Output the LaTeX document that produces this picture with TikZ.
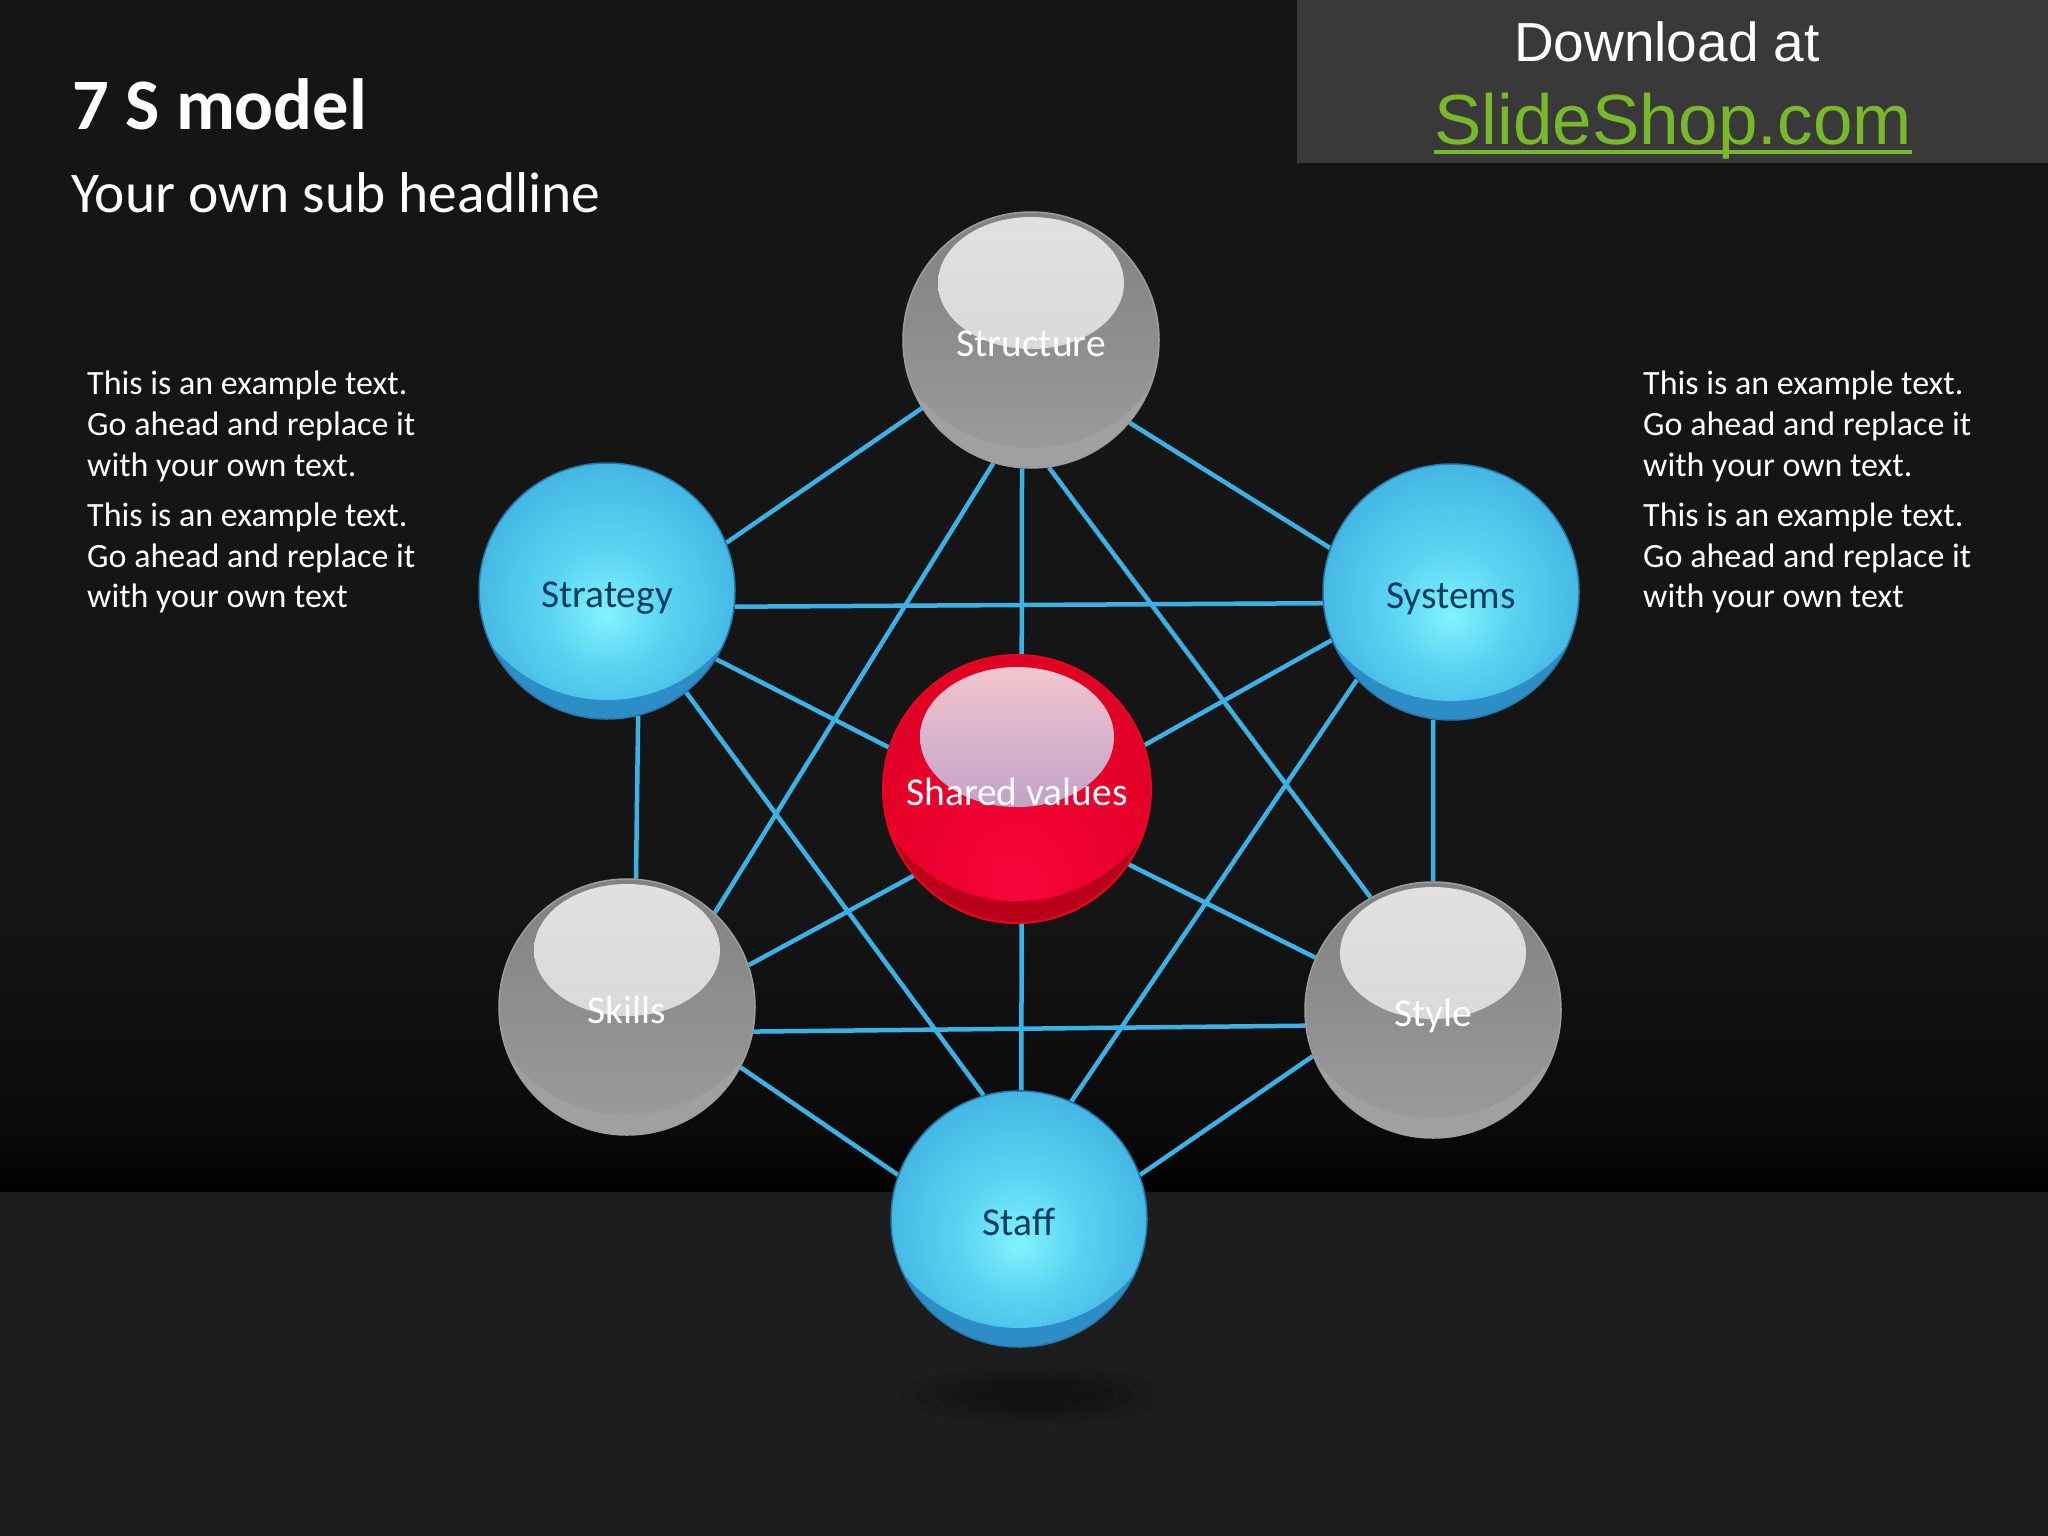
\documentclass[tikz,border=0pt]{standalone}
\usepackage{fontspec}
\setmainfont{Carlito}
\newfontfamily\arialfont{Liberation Sans}
\usetikzlibrary{calc}
\definecolor{bgtop}{HTML}{151515}
\definecolor{bgmid}{HTML}{0A0A0A}
\definecolor{bgbot}{HTML}{1D1D1E}
\definecolor{boxgray}{HTML}{393939}
\definecolor{ssgreen}{HTML}{78B82A}
\definecolor{linkblue}{HTML}{3AB2E6}
\definecolor{lbldark}{HTML}{0B3B5E}
\definecolor{bA}{HTML}{80F3FD}
\definecolor{bB}{HTML}{5AD4F2}
\definecolor{bC}{HTML}{3CAEDF}
\definecolor{bD}{HTML}{2C94CF}
\definecolor{bE}{HTML}{2C8DC7}
\definecolor{bF}{HTML}{2478AC}
\definecolor{gA}{HTML}{7A7A7A}
\definecolor{gB}{HTML}{9A9A9A}
\definecolor{gC}{HTML}{A0A0A0}
\definecolor{gD}{HTML}{9E9E9E}
\definecolor{gH}{HTML}{E0E0E0}
\definecolor{rA}{HTML}{F8063C}
\definecolor{rB}{HTML}{EA002C}
\definecolor{rC}{HTML}{D8001E}
\definecolor{rE}{HTML}{BA0018}
\definecolor{rF}{HTML}{E8061E}
\definecolor{rH1}{HTML}{F2C6CE}
\definecolor{rH2}{HTML}{C2A2C8}
\pgfdeclareradialshading{bluesph}{\pgfpoint{0bp}{-11bp}}{color(0bp)=(bA); color(10bp)=(bB); color(26bp)=(bC); color(40bp)=(bD); color(80bp)=(bD)}
\pgfdeclareradialshading{redsph}{\pgfpoint{0bp}{-24bp}}{color(0bp)=(rA); color(16bp)=(rB); color(36bp)=(rC); color(80bp)=(rC)}
\pgfdeclarelayer{back}
\pgfdeclarelayer{bg}
\pgfsetlayers{back,bg,main}
\tikzset{
  sphbase/.style={circle, minimum size=256pt, inner sep=0pt, text height=32pt, text depth=0pt, font=\fontsize{39.5}{40}\selectfont},
  bluesphere/.style={sphbase, draw=bF, line width=1.5pt, text=lbldark, path picture={
      \coordinate (pc) at (path picture bounding box.center);
      \fill[bE] (pc) circle (130pt);
      \shade[shading=bluesph] ($(pc)+(0pt,41pt)$) circle (150pt);
    }},
  graysphere/.style={sphbase, draw=gD, line width=1.5pt, text=white, path picture={
      \coordinate (pc) at (path picture bounding box.center);
      \fill[gC] (pc) circle (130pt);
      \shade[top color=gA, bottom color=gB] ($(pc)+(0pt,41pt)$) circle (149pt);
      \shade[top color=gH!98!white, bottom color=gH!97!black] ($(pc)+(0pt,57pt)$) ellipse (93pt and 66pt);
    }},
  redsphere/.style={sphbase, minimum size=268pt, draw=rF, line width=2pt, text=white, path picture={
      \coordinate (pc) at (path picture bounding box.center);
      \fill[rE] (pc) circle (136pt);
      \shade[shading=redsph] ($(pc)+(0pt,43pt)$) circle (155pt);
      \shade[top color=rH1, bottom color=rH2] ($(pc)+(0pt,52pt)$) ellipse (97pt and 70pt);
    }},
  link/.style={draw=linkblue, line width=4.5pt},
  bodytxt/.style={anchor=base west, inner sep=0pt, text=white, font=\fontsize{34}{41}\selectfont},
  softshadow/.style={fill=black, opacity=0.05},
}
\begin{document}
\begin{tikzpicture}[x=1pt,y=-1pt]
\useasboundingbox (0,0) rectangle (2048,1536);
\begin{pgfonlayer}{back}
  \fill[bgtop] (0,0) rectangle (2048,900);
  \shade[top color=bgtop, bottom color=bgmid] (0,899) rectangle (2048,1130);
  \shade[top color=bgmid, bottom color=black] (0,1129) rectangle (2048,1192);
  \fill[bgbot] (0,1192) rectangle (2048,1536);
  \foreach \k in {0,...,5} {
    \fill[softshadow] (1034,1395) ellipse ({135pt-\k*18pt} and {30pt-\k*4pt});
  }
  \fill[boxgray] (1297,0) rectangle (2048,163);
\end{pgfonlayer}

% spheres
\node[graysphere] (structure) at (1031,340) {Structure};
\node[bluesphere] (strategy) at (607,591) {Strategy};
\node[bluesphere] (systems) at (1451,592) {Systems};
\node[redsphere] (shared) at (1017,789) {Shared values};
\node[graysphere] (skills) at (627,1007) {Skills};
\node[graysphere] (style) at (1433,1010) {Style};
\node[bluesphere] (staff) at (1019,1219) {Staff};

% connectors
\begin{pgfonlayer}{bg}
  \draw[link] (structure.212) -- (strategy.22);
  \draw[link] (structure.320) -- (systems.160);
  \draw[link] (structure.266) -- (shared.88);
  \draw[link] (structure.253) -- (skills.47);
  \draw[link] (structure.278) -- (style.119);
  \draw[link] (strategy.353) -- (systems.185);
  \draw[link] (strategy.328) -- (shared.162);
  \draw[link] (strategy.308) -- (staff.106);
  \draw[link] (strategy.284) -- (skills.86);
  \draw[link] (systems.202) -- (shared.19);
  \draw[link] (systems.223) -- (staff.66);
  \draw[link] (systems.262) -- (style.90);
  \draw[link] (skills.19) -- (shared.220);
  \draw[link] (skills.349) -- (style.187);
  \draw[link] (skills.332) -- (staff.160);
  \draw[link] (shared.272) -- (staff.89);
  \draw[link] (shared.326) -- (style.156);
  \draw[link] (style.201) -- (staff.20);
\end{pgfonlayer}

% titles
\node[anchor=base west, inner sep=0pt, text=white, font=\bfseries\fontsize{72.5}{80}\selectfont] (title) at (72,130) {7 S model};
\node[anchor=base west, inner sep=0pt, text=white, font=\fontsize{57.5}{62}\selectfont] (subtitle) at (71,212) {Your own sub headline};

% download box
\node[anchor=base, inner sep=0pt, text=white, font=\arialfont\fontsize{55}{60}\selectfont] (dl) at (1667,62) {Download at};
\node[anchor=base, inner sep=0pt, text=ssgreen, font=\arialfont\fontsize{71}{76}\selectfont] (ss) at (1673,145) {SlideShop.com};
\draw[ssgreen, line width=4pt] ($(ss.base west)+(0,7)$) -- ($(ss.base east)+(0,7)$);

% left text
\node[bodytxt] (l1) at (87,394) {This is an example text.};
\node[bodytxt] (l2) at (87,435) {Go ahead and replace it};
\node[bodytxt] (l3) at (87,476) {with your own text.};
\node[bodytxt] (l4) at (87,526) {This is an example text.};
\node[bodytxt] (l5) at (87,567) {Go ahead and replace it};
\node[bodytxt] (l6) at (87,607) {with your own text};
% right text
\node[bodytxt] (r1) at (1643,394) {This is an example text.};
\node[bodytxt] (r2) at (1643,435) {Go ahead and replace it};
\node[bodytxt] (r3) at (1643,476) {with your own text.};
\node[bodytxt] (r4) at (1643,526) {This is an example text.};
\node[bodytxt] (r5) at (1643,567) {Go ahead and replace it};
\node[bodytxt] (r6) at (1643,607) {with your own text};
\end{tikzpicture}
\end{document}
